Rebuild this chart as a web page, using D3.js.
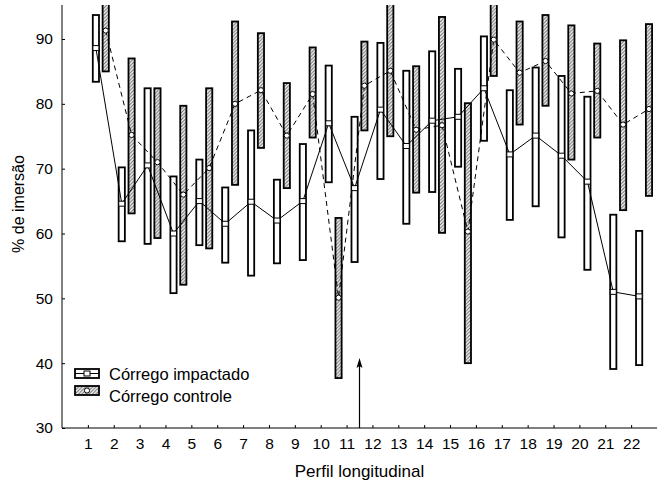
<!DOCTYPE html>
<html>
<head>
<meta charset="utf-8">
<script src="https://cdn.jsdelivr.net/npm/d3@7"></script>
<style>
  body { margin:0; background:#fff; }
  svg { display:block; font-family:"Liberation Sans", Arial, sans-serif; }
</style>
</head>
<body>
<svg id="chart" width="657" height="488"></svg>
<script>
// Perfil longitudinal 1..22
const perfis = d3.range(1, 23);
// Córrego impactado: min, média, max
const impMin  = [83.4,58.8,58.4,50.8,58.2,55.5,53.5,55.4,55.9,67.9,55.6,68.4,61.5,66.4,70.3,74.3,62.1,64.2,59.4,54.4,39.1,39.7];
const impMean = [88.6,64.6,70.5,60.0,65.0,61.5,64.9,62.0,65.0,77.0,67.0,79.1,73.5,77.4,78.0,82.4,72.2,75.1,72.0,68.0,51.0,50.3];
const impMax  = [93.7,70.2,82.4,68.8,71.4,67.1,75.9,68.3,73.8,85.9,78.0,89.4,85.1,88.1,85.4,90.4,82.1,85.6,84.3,81.1,62.9,60.4];
// Córrego controle: min, média, max
const ctlMin  = [85.0,63.1,59.3,52.1,57.7,67.5,73.2,67.0,74.8,37.7,75.9,75.0,66.3,60.1,40.0,84.3,76.8,79.7,71.4,74.8,63.6,65.8];
const ctlMean = [91.3,75.2,71.0,66.0,70.1,80.0,82.1,75.1,81.5,50.1,82.8,85.1,76.0,76.7,60.3,89.9,84.8,86.6,81.6,82.0,76.8,79.2];
const ctlMax  = [97.6,87.0,82.4,79.7,82.4,92.7,90.9,83.2,88.7,62.4,89.6,95.5,85.8,93.4,80.1,95.5,92.7,93.7,92.1,89.3,89.8,92.3];
const yTicks = [30,40,50,60,70,80,90];
const arrowAt = 11.5;
const seriesNames = ["Córrego impactado", "Córrego controle"];

const svg = d3.select("#chart");
const mLeft = 62, mRight = 657, mBottom = 428, mTop = 5;

const x = d3.scaleLinear().domain([0, 23]).range([mLeft, mRight]);
const y = d3.scaleLinear().domain([30, 90]).range([mBottom, 39]);
const boxW = 6.2;

// hatch pattern
const defs = svg.append("defs");
const pat = defs.append("pattern").attr("id","hatch").attr("patternUnits","userSpaceOnUse")
  .attr("width",3.5).attr("height",3.5);
pat.append("rect").attr("width",3.5).attr("height",3.5).attr("fill","#f0f0f0");
pat.append("path").attr("d","M-1,1 L1,-1 M0,3.5 L3.5,0 M2.5,4.5 L4.5,2.5")
  .attr("stroke","#666").attr("stroke-width",0.9);
defs.append("clipPath").attr("id","plotclip").append("rect")
  .attr("x",mLeft).attr("y",mTop).attr("width",mRight-mLeft).attr("height",mBottom-mTop);

const plot = svg.append("g").attr("clip-path","url(#plotclip)");

const imp = perfis.map((p,i)=>({p, lo:impMin[i], m:impMean[i], hi:impMax[i]}));
const ctl = perfis.map((p,i)=>({p, lo:ctlMin[i], m:ctlMean[i], hi:ctlMax[i]}));
const offImp = 0.31, offCtl = 0.69;

// boxes
plot.selectAll("rect.imp").data(imp).join("rect").attr("class","imp")
  .attr("x", d=>x(d.p+offImp)-boxW/2).attr("width",boxW)
  .attr("y", d=>y(d.hi)).attr("height", d=>y(d.lo)-y(d.hi))
  .attr("fill","#fff").attr("stroke","#000").attr("stroke-width",1.8);
plot.selectAll("rect.ctl").data(ctl).join("rect").attr("class","ctl")
  .attr("x", d=>x(d.p+offCtl)-boxW/2).attr("width",boxW)
  .attr("y", d=>y(d.hi)).attr("height", d=>y(d.lo)-y(d.hi))
  .attr("fill","url(#hatch)").attr("stroke","#000").attr("stroke-width",1.8);

// mean lines
plot.append("path").datum(imp)
  .attr("d", d3.line().x(d=>x(d.p+offImp)).y(d=>y(d.m)))
  .attr("fill","none").attr("stroke","#000").attr("stroke-width",1);
plot.append("path").datum(ctl)
  .attr("d", d3.line().x(d=>x(d.p+offCtl)).y(d=>y(d.m)))
  .attr("fill","none").attr("stroke","#000").attr("stroke-width",1).attr("stroke-dasharray","5,4");

// markers
plot.selectAll("rect.mimp").data(imp).join("rect").attr("class","mimp")
  .attr("x", d=>x(d.p+offImp)-3).attr("y", d=>y(d.m)-2.5).attr("width",6).attr("height",5)
  .attr("fill","#fff").attr("stroke","#000").attr("stroke-width",1);
plot.selectAll("circle.mctl").data(ctl).join("circle").attr("class","mctl")
  .attr("cx", d=>x(d.p+offCtl)).attr("cy", d=>y(d.m)).attr("r",2.6)
  .attr("fill","#fff").attr("stroke","#000").attr("stroke-width",1);

// axes
const gy = svg.append("g").attr("transform",`translate(${mLeft},0)`)
  .call(d3.axisLeft(y).tickValues(yTicks).tickSizeInner(-3).tickSizeOuter(0).tickPadding(9));
const gx = svg.append("g").attr("transform",`translate(0,${mBottom})`)
  .call(d3.axisBottom(x).tickValues(perfis).tickFormat(d3.format("d")).tickSizeInner(-3).tickSizeOuter(0).tickPadding(10));
[gy,gx].forEach(g=>{
  g.select(".domain").remove();
  g.selectAll("text").attr("font-size",15.5).attr("fill","#000").attr("font-family","Liberation Sans, Arial, sans-serif");
  g.selectAll("line").attr("stroke","#000");
});
svg.append("line").attr("x1",mLeft).attr("x2",mLeft).attr("y1",mTop).attr("y2",mBottom).attr("stroke","#000");
svg.append("line").attr("x1",mLeft).attr("x2",mRight).attr("y1",mBottom).attr("y2",mBottom).attr("stroke","#000");

// arrow
svg.append("line").attr("x1",x(arrowAt)).attr("x2",x(arrowAt)).attr("y1",mBottom).attr("y2",362)
  .attr("stroke","#000").attr("stroke-width",1.2);
svg.append("path").attr("d",`M${x(arrowAt)},358 l-3,10 l3,-2 l3,2 z`).attr("fill","#000");

// titles
svg.append("text").attr("x",(mLeft+mRight)/2).attr("y",477).attr("text-anchor","middle")
  .attr("font-size",17).attr("fill","#000").text("Perfil longitudinal");
svg.append("text").attr("transform","translate(24,204) rotate(-90)").attr("text-anchor","middle")
  .attr("font-size",16).attr("fill","#000").text("% de imersão");

// legend
const lg = svg.append("g");
const lx = 75, lw = 24;
lg.append("rect").attr("x",lx).attr("y",369).attr("width",lw).attr("height",9)
  .attr("fill","#fff").attr("stroke","#000").attr("stroke-width",1.8);
lg.append("line").attr("x1",lx).attr("x2",lx+lw).attr("y1",373.5).attr("y2",373.5).attr("stroke","#000");
lg.append("rect").attr("x",lx+lw/2-3).attr("y",371).attr("width",6).attr("height",5)
  .attr("fill","#fff").attr("stroke","#000");
lg.append("rect").attr("x",lx).attr("y",386).attr("width",lw).attr("height",9)
  .attr("fill","url(#hatch)").attr("stroke","#000").attr("stroke-width",1.8);
lg.append("circle").attr("cx",lx+lw/2).attr("cy",390.5).attr("r",2.6).attr("fill","#fff").attr("stroke","#000");
lg.selectAll("text").data(seriesNames).join("text")
  .attr("x",109).attr("y",(d,i)=>374+i*22).attr("dy","0.35em")
  .attr("font-size",16.5).attr("fill","#000").text(d=>d);
</script>
</body>
</html>
